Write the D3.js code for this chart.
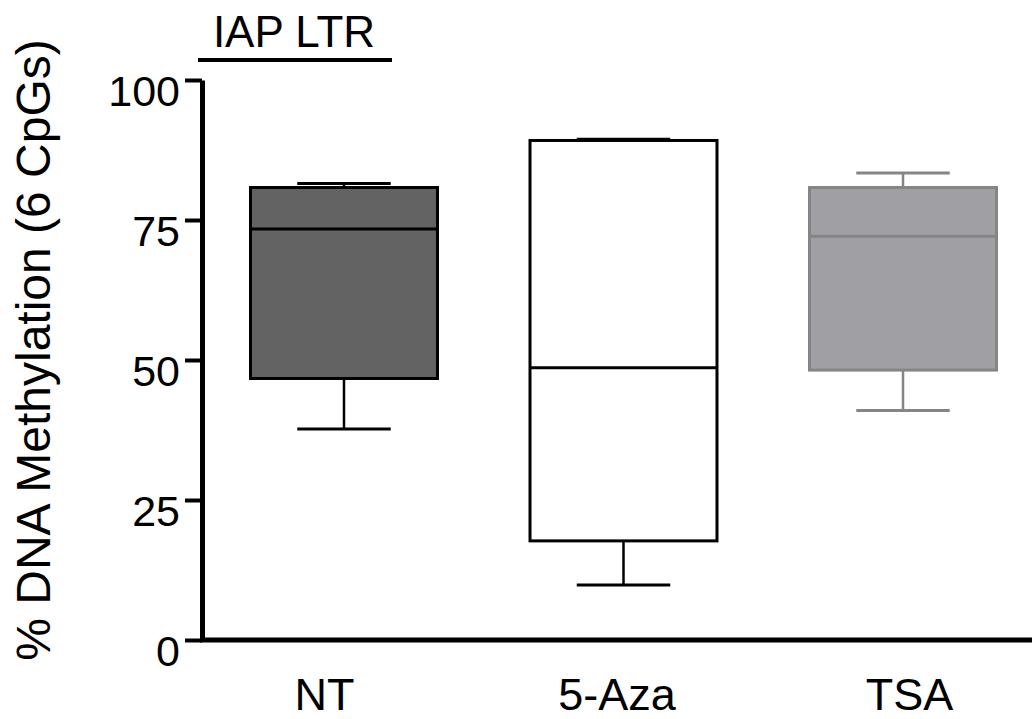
<!DOCTYPE html>
<html>
<head>
<meta charset="utf-8">
<script src="https://cdn.jsdelivr.net/npm/d3@7"></script>
<style>
  html, body { margin: 0; padding: 0; background: #fff; }
  svg { display: block; font-family: "Liberation Sans", Arial, Helvetica, sans-serif; }
</style>
</head>
<body>
<svg id="chart" width="1032" height="719"></svg>
<script>
const categories = ["NT", "5-Aza", "TSA"];
const whiskerLow = [37.7, 9.8, 41.0];
const q1 = [46.7, 17.7, 48.2];
const median = [73.4, 48.6, 72.1];
const q3 = [80.8, 89.2, 80.8];
const whiskerHigh = [81.5, 89.4, 83.4];
const yTicks = [0, 25, 50, 75, 100];
const fills = ["#636363", "#ffffff", "#a09fa3"];
const strokes = ["#000000", "#000000", "#858585"];
const title = "IAP LTR";
const yLabel = "% DNA Methylation (6 CpGs)";

const svg = d3.select("#chart");
const y = d3.scaleLinear().domain([0, 100]).range([640, 80]);
const x = d3.scaleBand().domain(categories).range([202, 1045])
  .paddingInner(0.331).paddingOuter(0.1735);
// category labels sit slightly off the box centres in the original
const xLabel = d3.scalePoint().domain(categories).range([324, 909]);

const data = categories.map((c, i) => ({
  c, lo: whiskerLow[i], q1: q1[i], med: median[i], q3: q3[i], hi: whiskerHigh[i],
  fill: fills[i], stroke: strokes[i]
}));

// boxes
const g = svg.append("g");
const bw = x.bandwidth();
data.forEach(d => {
  const cx = x(d.c) + bw / 2;
  const gg = g.append("g");
  gg.append("line").attr("x1", cx).attr("x2", cx).attr("y1", y(d.q3)).attr("y2", y(d.hi))
    .attr("stroke", d.stroke).attr("stroke-width", 2.5);
  gg.append("line").attr("x1", cx).attr("x2", cx).attr("y1", y(d.q1)).attr("y2", y(d.lo))
    .attr("stroke", d.stroke).attr("stroke-width", 2.5);
  gg.append("line").attr("x1", cx - bw / 4).attr("x2", cx + bw / 4).attr("y1", y(d.hi)).attr("y2", y(d.hi))
    .attr("stroke", d.stroke).attr("stroke-width", 3);
  gg.append("line").attr("x1", cx - bw / 4).attr("x2", cx + bw / 4).attr("y1", y(d.lo)).attr("y2", y(d.lo))
    .attr("stroke", d.stroke).attr("stroke-width", 3);
  gg.append("rect").attr("x", x(d.c)).attr("width", bw)
    .attr("y", y(d.q3)).attr("height", y(d.q1) - y(d.q3))
    .attr("fill", d.fill).attr("stroke", d.stroke).attr("stroke-width", 3);
  gg.append("line").attr("x1", x(d.c)).attr("x2", x(d.c) + bw).attr("y1", y(d.med)).attr("y2", y(d.med))
    .attr("stroke", d.stroke).attr("stroke-width", 3);
});

// y axis
const yAxis = svg.append("g").attr("transform", "translate(202,0)")
  .call(d3.axisLeft(y).tickValues(yTicks).tickSize(17).tickSizeOuter(0).tickPadding(5));
yAxis.select(".domain").attr("stroke", "#000").attr("stroke-width", 5);
yAxis.selectAll(".tick line").attr("stroke", "#000").attr("stroke-width", 4);
yAxis.selectAll(".tick text").attr("font-size", 43).attr("fill", "#000")
  .attr("font-family", "Liberation Sans, Arial, sans-serif")
  .attr("dy", null).attr("y", 25).attr("x", -22);

// x axis
svg.append("line").attr("x1", 200).attr("x2", 1032).attr("y1", 640).attr("y2", 640)
  .attr("stroke", "#000").attr("stroke-width", 5);
const xAxis = svg.append("g").attr("transform", "translate(0,640)")
  .call(d3.axisBottom(xLabel).tickSize(0).tickPadding(0));
xAxis.select(".domain").remove();
xAxis.selectAll(".tick text").attr("font-size", 45).attr("fill", "#000")
  .attr("font-family", "Liberation Sans, Arial, sans-serif")
  .attr("dy", null).attr("y", 70);

// y label
svg.append("text").attr("transform", "translate(50,350) rotate(-90)")
  .attr("text-anchor", "middle").attr("font-size", 48).attr("fill", "#000")
  .text(yLabel);

// title
svg.append("text").attr("x", 294).attr("y", 47).attr("text-anchor", "middle")
  .attr("font-size", 44).attr("fill", "#000").text(title);
svg.append("line").attr("x1", 198).attr("x2", 392).attr("y1", 60).attr("y2", 60)
  .attr("stroke", "#000").attr("stroke-width", 4);
</script>
</body>
</html>
